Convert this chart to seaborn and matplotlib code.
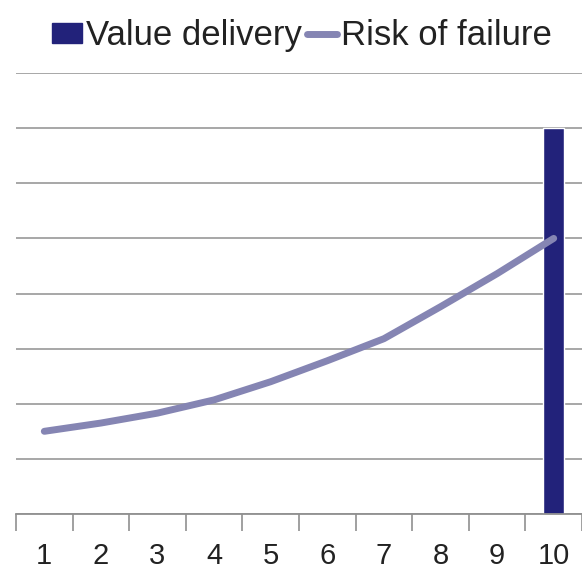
import numpy as np
import pandas as pd
import seaborn as sns
import matplotlib.pyplot as plt
from matplotlib.patches import Patch
from matplotlib.lines import Line2D

# values
periods = ["1", "2", "3", "4", "5", "6", "7", "8", "9", "10"]
value_delivery = [0, 0, 0, 0, 0, 0, 0, 0, 0, 7.0]
risk_of_failure = [1.5, 1.65, 1.83, 2.07, 2.4, 2.78, 3.18, 3.76, 4.36, 5.0]

bar_color = "#22227a"
line_color = "#8585b3"

df = pd.DataFrame({"period": periods, "value": value_delivery, "risk": risk_of_failure})

sns.set_style("white")
plt.rcParams["font.family"] = ["Liberation Sans", "DejaVu Sans"]

fig = plt.figure(figsize=(5.82, 5.69), dpi=100)
ax = fig.add_axes([16 / 582, 1 - 514 / 569, 566 / 582, (514 - 73) / 569])

sns.barplot(data=df, x="period", y="value", color=bar_color, width=0.37,
            saturation=1, ax=ax)
sns.lineplot(data=df, x="period", y="risk", color=line_color, linewidth=5,
             sort=False, ax=ax, solid_capstyle="round")

ax.set_xlim(-0.5, 9.5)
ax.set_ylim(0, 8)
ax.set_yticks(np.arange(0, 9, 1))
ax.set_yticklabels([])
ax.tick_params(axis="y", length=0)
ax.grid(axis="y", color="#a0a0a0", linewidth=1.3)
ax.set_axisbelow(True)

# category boundary tick marks
ax.set_xticks(np.arange(-0.5, 10, 1), minor=True)
ax.tick_params(axis="x", which="minor", bottom=True, length=12, width=1.2,
               color="#909090", direction="out")
ax.tick_params(axis="x", which="major", bottom=False, length=0, labelsize=21,
               pad=20, labelcolor="#222222")

for s in ["left", "right", "top"]:
    ax.spines[s].set_visible(False)
ax.spines["bottom"].set_color("#909090")
ax.spines["bottom"].set_linewidth(1.3)
ax.set_xlabel("")
ax.set_ylabel("")

handles = [Patch(color=bar_color, label="Value delivery"),
           Line2D([0], [0], color=line_color, linewidth=5, label="Risk of failure")]
fig.legend(handles=handles, loc="upper center", bbox_to_anchor=(0.519, 1.0),
           ncol=2, frameon=False, fontsize=25, handlelength=0.85,
           handleheight=0.5, handletextpad=0.12, columnspacing=0.15,
           labelcolor="#222222", borderaxespad=0.15)

fig.savefig("out.png", dpi=100)
